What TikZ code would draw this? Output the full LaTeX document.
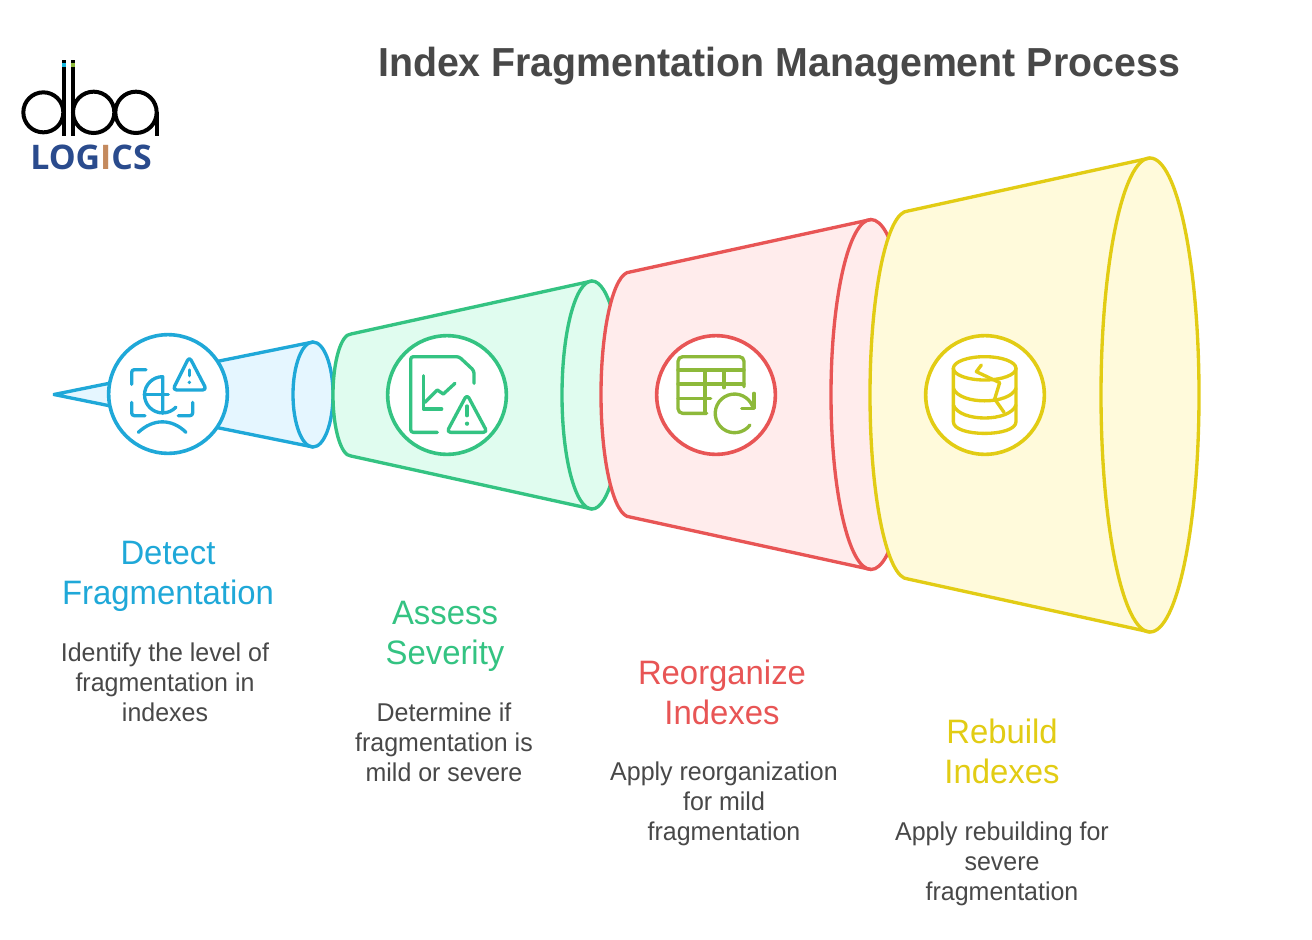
\documentclass[tikz,border=0pt]{standalone}
\usepackage{fontspec}
\setmainfont[FakeStretch=0.97]{Liberation Sans}
\newfontfamily\logofont{Open Sans}
\definecolor{cblue}{HTML}{1FA8D8}\definecolor{fblue}{HTML}{E5F6FF}
\definecolor{cgreen}{HTML}{34C382}\definecolor{fgreen}{HTML}{E0FCEF}
\definecolor{cred}{HTML}{E85555}\definecolor{fred}{HTML}{FFECEC}
\definecolor{cyel}{HTML}{E2CC14}\definecolor{fyel}{HTML}{FFFADB}
\definecolor{ctext}{HTML}{484848}\definecolor{ctab}{HTML}{8DB93A}
\definecolor{clogo}{HTML}{2A4B8D}\definecolor{clogoi}{HTML}{C48A5E}
\tikzset{
  outline/.style={line width=2.5pt,line join=round,line cap=round},
  disc/.style={circle,draw=#1,fill=white,line width=2.7pt,minimum size=89pt,inner sep=0pt},
  ico/.style={line width=2.5pt,line cap=round,line join=round},
  titletxt/.style={text=ctext,font=\fontsize{30.4}{36}\selectfont\bfseries},
  headtxt/.style={align=center,font=\fontsize{25.4}{30}\selectfont},
  desctxt/.style={align=center,text=ctext,font=\fontsize{19.3}{22.4}\selectfont},
}
% args: col fill cy lx lrx lry rx rrx rry
\newcommand\conebody[9]{%
  \draw[outline,draw=#1,fill=#2] (#4,#3-#6) arc[start angle=90,end angle=270,x radius=#5*0.75pt,y radius=#6*0.75pt]
    -- (#7,#3+#9) arc[start angle=-90,end angle=90,x radius=#8*0.75pt,y radius=#9*0.75pt] -- cycle;
  \draw[outline,draw=#1] (#7,#3-#9) arc[start angle=90,end angle=270,x radius=#8*0.75pt,y radius=#9*0.75pt];
}
\begin{document}
\begin{tikzpicture}[x=0.75pt,y=-0.75pt]
\useasboundingbox (0,0) rectangle (1312,939);
\fill[white] (0,0) rectangle (1312,939);
\node[titletxt,anchor=center] (title) at (779,66) {Index Fragmentation Management Process};
% logo
\begin{scope}[shift={(0,40)},x=0.25pt,y=-0.25pt]
 \draw[line width=3pt,black] (130,217) circle[radius=15pt];
 \draw[line width=3pt,black] (281,217) circle[radius=15.5pt];
 \draw[line width=3pt,black] (408,217) circle[radius=15.5pt];
 \draw[line width=3pt,black] (193,60) -- (193,287);
 \draw[line width=3pt,black] (218,60) -- (218,287);
 \draw[line width=3pt,black] (470,217) -- (470,287);
 \draw[line width=3pt,cblue!80!cyan] (193,68) -- (193,82);
 \draw[line width=3pt,ctab] (218,68) -- (218,82);
\end{scope}
\node[anchor=center,inner sep=0pt,text=clogo,font=\fontsize{25.4}{28}\logofont\bfseries] (logotxt) at (91,157) {LOG{\color{clogoi}I}CS};
% cones
\fill[fblue] (54,394) -- (313,341) -- (313,447) -- cycle;
\conebody{cblue}{fblue}{394.5}{54}{0.01}{0.01}{313}{20}{52.5}
\conebody{cgreen}{fgreen}{395}{351}{18}{61}{592}{30}{114}
\conebody{cred}{fred}{394.5}{630}{29}{122.5}{871}{40}{175}
\conebody{cyel}{fyel}{395}{908}{38}{184}{1150}{49}{237}
% discs
\node[disc=cblue] (d1) at (168,394) {};
\node[disc=cgreen] (d2) at (447,395) {};
\node[disc=cred] (d3) at (716,395) {};
\node[disc=cyel] (d4) at (985,395) {};
% icon 1
\begin{scope}[shift={(100,325)},x=0.25pt,y=-0.25pt,ico,draw=cblue]
 \draw[rounded corners=2pt] (138,134) -- (95,134) -- (95,178);
 \draw[rounded corners=2pt] (95,232) -- (95,272) -- (135,272);
 \draw[rounded corners=2pt] (278,232) -- (278,272) -- (235,272);
 \draw (188,265) -- (188,155) arc[start angle=90,end angle=317,radius=13.6pt];
 \draw (133,208) -- (205,208);
 \draw[rounded corners=3pt] (268,95) -- (218,195) -- (320,195) -- cycle;
 \draw (268,135) -- (268,152);
 \fill[cblue] (268,172) circle[radius=1.4pt];
 \draw (115,322) .. controls (160,280) and (215,280) .. (258,322);
\end{scope}
% icon 2
\begin{scope}[shift={(380,325)},x=0.25pt,y=-0.25pt,ico,draw=cgreen]
 \draw[rounded corners=2pt] (172,322) -- (92,322) -- (92,95) -- (237,95) -- (282,137) -- (282,175);
 \draw (130,152) -- (130,252) -- (185,252);
 \draw (135,232) -- (172,195) -- (190,207) -- (225,175);
 \draw[rounded corners=3pt] (261,208) -- (200,322) -- (322,322) -- cycle;
 \draw (261,243) -- (261,272);
 \fill[cgreen] (261,296) circle[radius=1.6pt];
\end{scope}
% icon 3
\begin{scope}[shift={(650,325)},x=0.25pt,y=-0.25pt,ico,draw=ctab]
 \draw[rounded corners=3.5pt] (170,265) -- (84,265) -- (84,95) -- (282,95) -- (282,185);
 \draw (84,135) -- (282,135);
 \draw (84,177) -- (282,177);
 \draw (84,220) -- (182,220);
 \draw (165,135) -- (165,265);
 \draw (222,135) -- (222,188);
 \draw (300,300) arc[start angle=-37,end angle=-345,radius=14.5pt];
 \draw (312,205) -- (312,250) -- (275,250);
\end{scope}
% icon 4
\begin{scope}[shift={(918,325)},x=0.25pt,y=-0.25pt,ico,draw=cyel]
 \draw (200,130) ellipse[x radius=94,y radius=35];
 \draw (106,130) -- (106,290) .. controls (106,337) and (294,337) .. (294,290) -- (294,130);
 \draw (106,190) .. controls (125,240) and (275,240) .. (294,190);
 \draw (106,240) .. controls (125,292) and (275,292) .. (294,240);
 \draw (190,120) -- (175,140) -- (245,173) -- (230,222) -- (258,262);
\end{scope}
% labels
\node[headtxt,text=cblue] (h1) at (168,576.5) {Detect\\Fragmentation};
\node[desctxt] (t1) at (165,682.5) {Identify the level of\\fragmentation in\\indexes};
\node[headtxt,text=cgreen] (h2) at (445,636.5) {Assess\\Severity};
\node[desctxt] (t2) at (444,742) {Determine if\\fragmentation is\\mild or severe};
\node[headtxt,text=cred] (h3) at (722,692.5) {Reorganize\\Indexes};
\node[desctxt] (t3) at (724,803.5) {Apply reorganization\\for mild\\fragmentation};
\node[headtxt,text=cyel] (h4) at (1002,751) {Rebuild\\Indexes};
\node[desctxt] (t4) at (1002,863.5) {Apply rebuilding for\\severe\\fragmentation};
\end{tikzpicture}
\end{document}
